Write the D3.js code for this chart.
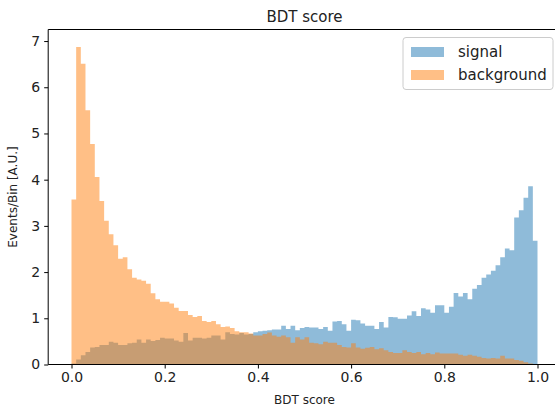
<!DOCTYPE html>
<html>
<head>
<meta charset="utf-8">
<script src="https://cdn.jsdelivr.net/npm/d3@7"></script>
<style>
  body { margin: 0; background: #fff; }
  svg { display: block; font-family: "DejaVu Sans", sans-serif; }
</style>
</head>
<body>
<svg id="chart" width="555" height="408"></svg>
<script>
// 100 bins of width 0.01 between 0 and 1
const binEdges = d3.range(0, 100).map(i => i / 100)

const signal = [
  0.02, 0.11, 0.20, 0.27, 0.37, 0.38, 0.42, 0.42, 0.49, 0.47,
  0.42, 0.42, 0.46, 0.47, 0.54, 0.47, 0.54, 0.51, 0.53, 0.58,
  0.56, 0.56, 0.52, 0.49, 0.68, 0.52, 0.58, 0.58, 0.56, 0.58,
  0.63, 0.63, 0.54, 0.70, 0.66, 0.65, 0.68, 0.65, 0.66, 0.70,
  0.72, 0.73, 0.74, 0.76, 0.76, 0.84, 0.77, 0.84, 0.74, 0.79,
  0.81, 0.80, 0.80, 0.77, 0.81, 0.73, 0.93, 0.94, 0.87, 0.73,
  0.97, 0.96, 0.89, 0.84, 0.84, 0.77, 0.92, 0.80, 1.03, 1.02,
  0.99, 0.99, 1.06, 1.15, 1.05, 1.22, 1.19, 1.12, 1.28, 1.28,
  1.12, 1.25, 1.55, 1.47, 1.55, 1.41, 1.64, 1.72, 1.88, 1.95,
  2.03, 2.15, 2.32, 2.51, 2.47, 3.18, 3.34, 3.61, 3.86, 2.68
]

const background = [
  3.57, 6.87, 6.51, 5.50, 4.77, 4.06, 3.54, 3.11, 2.82, 2.58,
  2.29, 2.32, 2.06, 1.88, 1.84, 1.81, 1.75, 1.54, 1.41, 1.36,
  1.36, 1.32, 1.23, 1.16, 1.16, 1.07, 1.03, 1.05, 0.94, 0.92,
  0.94, 0.87, 0.81, 0.82, 0.79, 0.72, 0.70, 0.70, 0.67, 0.63,
  0.63, 0.66, 0.69, 0.63, 0.60, 0.63, 0.59, 0.47, 0.59, 0.54,
  0.59, 0.47, 0.46, 0.44, 0.49, 0.47, 0.47, 0.42, 0.38, 0.37,
  0.46, 0.37, 0.34, 0.36, 0.38, 0.33, 0.35, 0.31, 0.27, 0.25,
  0.25, 0.31, 0.27, 0.25, 0.27, 0.22, 0.25, 0.22, 0.26, 0.24,
  0.24, 0.24, 0.24, 0.21, 0.19, 0.21, 0.19, 0.17, 0.14, 0.13,
  0.14, 0.13, 0.19, 0.13, 0.13, 0.10, 0.08, 0.05, 0.02, 0.01
]

const xTicks = [0, 0.2, 0.4, 0.6, 0.8, 1.0]
const yTicks = [0, 1, 2, 3, 4, 5, 6, 7]
const seriesNames = ['signal', 'background']
const seriesColors = ['#1f77b4', '#ff7f0e']

const svg = d3.select('#chart')
const mLeft = 48.2, mRight = 560.8, mTop = 29.5, mBottom = 364.5

const x = d3.scaleLinear().domain([-0.05, 1.05]).range([mLeft, mRight])
const y = d3.scaleLinear().domain([0, 7.25]).range([mBottom, mTop])

const plot = svg.append('g')

// step outline for each histogram, closed down to zero
function histArea(values) {
  const pts = binEdges.map((e, i) => [e, values[i]])
  pts.push([1.0, values[values.length - 1]])
  return d3.area()
    .x(d => x(d[0]))
    .y0(y(0))
    .y1(d => y(d[1]))
    .curve(d3.curveStepAfter)(pts)
}

;[signal, background].forEach((vals, i) => {
  plot.append('path')
    .attr('d', histArea(vals))
    .attr('fill', seriesColors[i])
    .attr('fill-opacity', 0.5)
})

// spines (right side falls outside the picture)
svg.append('line').attr('x1', mLeft).attr('x2', mLeft).attr('y1', mTop).attr('y2', mBottom)
  .attr('stroke', '#000').attr('stroke-width', 1)
svg.append('line').attr('x1', mLeft).attr('x2', mRight).attr('y1', mTop).attr('y2', mTop)
  .attr('stroke', '#000').attr('stroke-width', 1)
svg.append('line').attr('x1', mLeft).attr('x2', mRight).attr('y1', mBottom).attr('y2', mBottom)
  .attr('stroke', '#000').attr('stroke-width', 1)

const xAxis = svg.append('g')
  .attr('transform', `translate(0,${mBottom})`)
  .call(d3.axisBottom(x).tickValues(xTicks).tickFormat(d3.format('.1f')).tickSize(4).tickPadding(4))
const yAxis = svg.append('g')
  .attr('transform', `translate(${mLeft},0)`)
  .call(d3.axisLeft(y).tickValues(yTicks).tickFormat(d3.format('d')).tickSize(4).tickPadding(4))

;[xAxis, yAxis].forEach(ax => {
  ax.select('.domain').remove()
  ax.selectAll('line').attr('stroke', '#000')
  ax.selectAll('text').attr('fill', '#222').attr('font-size', 14)
    .attr('font-family', '"DejaVu Sans", sans-serif')
})

svg.append('text')
  .attr('x', (mLeft + mRight) / 2).attr('y', 22)
  .attr('text-anchor', 'middle').attr('font-size', 15).attr('fill', '#222')
  .text('BDT score')

svg.append('text')
  .attr('x', (mLeft + mRight) / 2).attr('y', 404)
  .attr('text-anchor', 'middle').attr('font-size', 12).attr('fill', '#222')
  .text('BDT score')

svg.append('text')
  .attr('transform', `translate(17,${(mTop + mBottom) / 2}) rotate(-90)`)
  .attr('text-anchor', 'middle').attr('font-size', 12).attr('fill', '#222')
  .text('Events/Bin [A.U.]')

// legend
const legend = svg.append('g')
legend.append('rect')
  .attr('x', 403).attr('y', 37.5).attr('width', 150).attr('height', 52)
  .attr('rx', 3).attr('fill', '#fff').attr('fill-opacity', 0.8)
  .attr('stroke', '#ccc')
seriesNames.forEach((name, i) => {
  const yy = 47 + i * 23
  legend.append('rect')
    .attr('x', 411).attr('y', yy).attr('width', 33).attr('height', 10)
    .attr('fill', seriesColors[i]).attr('fill-opacity', 0.5)
  legend.append('text')
    .attr('x', 458).attr('y', yy + 10)
    .attr('font-size', 15).attr('fill', '#222')
    .text(name)
})
</script>
</body>
</html>
